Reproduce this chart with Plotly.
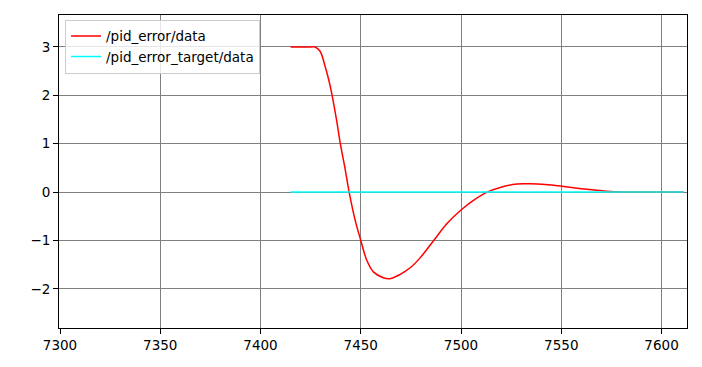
import plotly.graph_objects as go

# Data
err_x = [7415, 7420, 7425, 7427.2, 7429.7, 7432.2, 7434.2, 7435.7, 7438, 7439.8,
         7442.1, 7444.2, 7447.2, 7450, 7453, 7456.3, 7461.2, 7464.6, 7469.7, 7474.8,
         7479.8, 7486.4, 7493, 7500, 7506, 7513, 7519.6, 7527.9, 7534.5, 7542,
         7550.3, 7560, 7569.5, 7578, 7590, 7600, 7611]
err_y = [3, 3, 3, 3.0, 2.91, 2.6, 2.29, 2.0, 1.47, 1.0,
         0.5, 0.0, -0.58, -1.0, -1.41, -1.65, -1.77, -1.79, -1.70, -1.56,
         -1.35, -1.0, -0.65, -0.37, -0.175, 0.0, 0.096, 0.167, 0.17, 0.155,
         0.12, 0.07, 0.03, 0.005, 0, 0, 0]

target_x = [7415, 7450, 7500, 7550, 7611]
target_y = [0, 0, 0, 0, 0]

x_ticks = [7300, 7350, 7400, 7450, 7500, 7550, 7600]
y_ticks = [-2, -1, 0, 1, 2, 3]

fig = go.Figure()
fig.add_trace(go.Scatter(x=err_x, y=err_y, mode="lines", name="/pid_error/data",
                         line=dict(color="#ff0000", width=1.5, shape="spline", smoothing=1.0)))
fig.add_trace(go.Scatter(x=target_x, y=target_y, mode="lines", name="/pid_error_target/data",
                         line=dict(color="#00ffff", width=1.5)))

axis_common = dict(showline=True, linecolor="black", linewidth=1, mirror=True,
                   ticks="outside", ticklen=5, tickcolor="black", tickwidth=1,
                   showgrid=True, gridcolor="#808080", gridwidth=1, zeroline=False,
                   tickfont=dict(family="DejaVu Sans", size=13.5, color="black"))

# page body has an 8px margin, so the figure is sized/margined to compensate
fig.update_layout(
    width=694, height=359,
    margin=dict(l=51, r=15, t=7, b=39),
    paper_bgcolor="white", plot_bgcolor="white",
    xaxis=dict(range=[7299.5, 7612.7], tickvals=x_ticks, **axis_common),
    yaxis=dict(range=[-2.81, 3.66], tickvals=y_ticks, **axis_common),
    legend=dict(x=0.0096, y=0.985, xanchor="left", yanchor="top",
                bgcolor="rgba(255,255,255,0.8)", bordercolor="#cccccc", borderwidth=1,
                font=dict(family="DejaVu Sans", size=13.5, color="black"),
                itemwidth=30, tracegroupgap=0),
    showlegend=True,
)

fig.write_html("out.html")
